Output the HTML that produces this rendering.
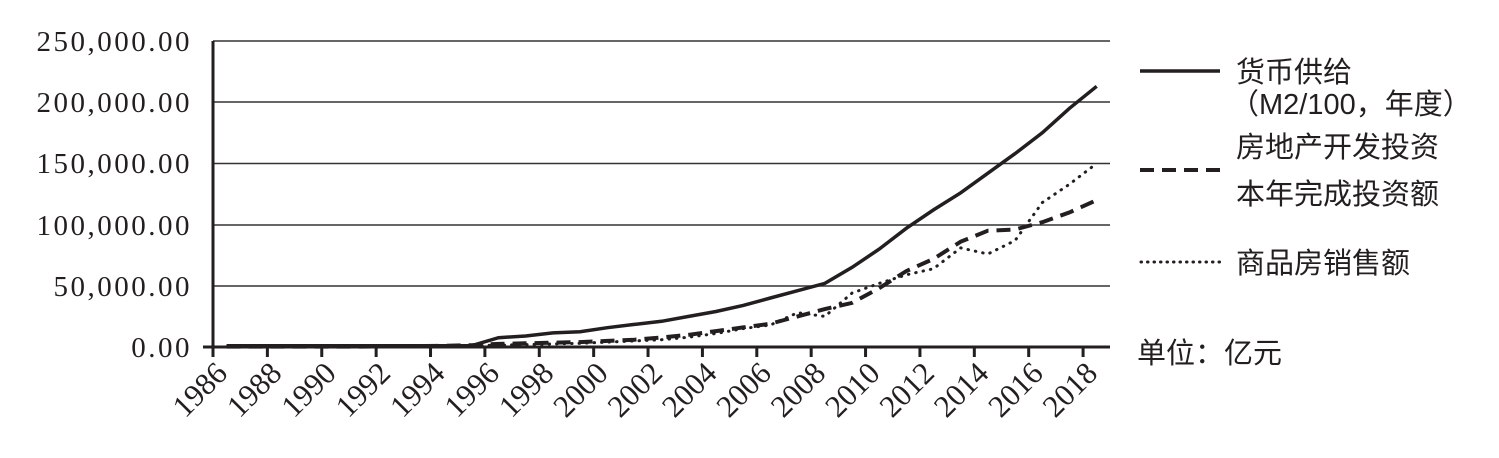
<!DOCTYPE html>
<html><head><meta charset="utf-8"><style>
body{margin:0;background:#fff}
svg text{font-family:"Liberation Serif","Noto Serif CJK SC",serif;fill:#231f20}
.cj{font-family:"Liberation Sans","Noto Sans CJK SC",sans-serif}
</style></head><body>
<svg width="1499" height="453" viewBox="0 0 1499 453">
<g stroke="#333" stroke-width="1.5">
<line x1="213" x2="1110" y1="41" y2="41"/>
<line x1="213" x2="1110" y1="102" y2="102"/>
<line x1="213" x2="1110" y1="163.5" y2="163.5"/>
<line x1="213" x2="1110" y1="225" y2="225"/>
<line x1="213" x2="1110" y1="286" y2="286"/>
</g>
<line x1="213" x2="213" y1="41" y2="347" stroke="#231f20" stroke-width="3"/>
<line x1="203" x2="1110" y1="347" y2="347" stroke="#231f20" stroke-width="3"/>
<g id="ticks" stroke="#231f20" stroke-width="3"></g>
<g font-size="29" text-anchor="end" letter-spacing="2.5">
<text x="192" y="51">250,000.00</text>
<text x="192" y="112">200,000.00</text>
<text x="192" y="173">150,000.00</text>
<text x="192" y="235">100,000.00</text>
<text x="192" y="296">50,000.00</text>
<text x="192" y="357">0.00</text>
</g>
<g id="xl" font-size="31" text-anchor="end"></g>
<polyline id="s1" fill="none" stroke="#231f20" stroke-width="3.5"/>
<polyline id="s2" fill="none" stroke="#231f20" stroke-width="4" stroke-dasharray="14,8"/>
<polyline id="s3" fill="none" stroke="#231f20" stroke-width="3" stroke-dasharray="0.5,7" stroke-linecap="round"/>
<line x1="1140" x2="1220" y1="71" y2="71" stroke="#231f20" stroke-width="3.5"/>
<line x1="1140" x2="1220" y1="170" y2="170" stroke="#231f20" stroke-width="4" stroke-dasharray="14,8"/>
<line x1="1141" x2="1220" y1="262" y2="262" stroke="#231f20" stroke-width="3" stroke-dasharray="0.5,6" stroke-linecap="round"/>
<g class="cj" font-size="29">
<text class="cj" x="1236" y="82">货币供给</text>
<text class="cj" x="1230" y="114">（M2/100，年度）</text>
<text class="cj" x="1236" y="157">房地产开发投资</text>
<text class="cj" x="1236" y="204">本年完成投资额</text>
<text class="cj" x="1236" y="273">商品房销售额</text>
<text class="cj" x="1137" y="363">单位：亿元</text>
</g>
</svg>
<script>
var X=i=>213+27.19*(i+0.5),Y=v=>347-v*306/250;
var s1=[1,1,1,1,1,1,1,1,1,1,7.6,9,11.5,12.5,15.8,18.5,21,25,29,34,40,46,52,65,80,97,112,126,142,158,175,195,213];
var s2=[.3,.3,.3,.3,.3,.3,.5,.8,1,1.5,2.5,3,3.5,4,5,6,7.8,10,13,16,19,25,31,36,48,62,72,86,95,96,102,110,120];
var s3=[.2,.2,.2,.2,.2,.2,.3,.5,.7,1,1.5,2,2.5,3,4,5,6,8,11,15,18,28,25,44,52,59,64,81,76,87,118,133,150];
function p(a){return a.map((v,i)=>X(i).toFixed(1)+","+Y(v).toFixed(1)).join(" ")}
document.getElementById('s1').setAttribute('points',p(s1));
document.getElementById('s2').setAttribute('points',p(s2));
document.getElementById('s3').setAttribute('points',p(s3));
var t='',l='';
for(var y=1986;y<=2018;y+=2){var x=213+27.19*(y-1986);
t+='<line x1="'+x+'" x2="'+x+'" y1="347" y2="357"/>';
l+='<text transform="translate('+(x+16)+',375) rotate(-45)">'+y+'</text>';}
document.getElementById('ticks').innerHTML=t;
document.getElementById('xl').innerHTML=l;
</script>
</body></html>
